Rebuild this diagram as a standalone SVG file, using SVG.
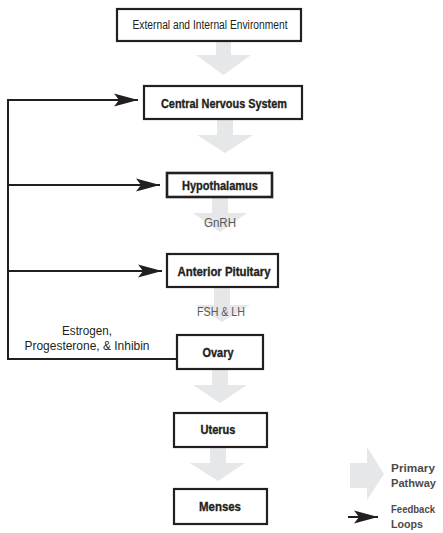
<svg xmlns="http://www.w3.org/2000/svg" width="443" height="533" viewBox="0 0 443 533">
<style>
.box{fill:#fff;stroke:#231f20;stroke-width:2.2}
.lbl{font-family:"Liberation Sans",Arial,sans-serif;font-weight:bold;font-size:13px;fill:#231f20;stroke:#231f20;stroke-width:0.35;text-anchor:middle}
.reg{font-family:"Liberation Sans",Arial,sans-serif;font-size:12px;fill:#231f20;text-anchor:middle}
.hor{font-family:"Liberation Sans",Arial,sans-serif;font-size:12px;fill:#58595b;text-anchor:middle}
.flow{fill:#e6e7e8}
.fb{fill:none;stroke:#231f20;stroke-width:2}
.leg{font-family:"Liberation Sans",Arial,sans-serif;font-size:11px;font-weight:bold;fill:#4d4a4a}
</style>
<defs>
<marker id="ah" markerUnits="userSpaceOnUse" markerWidth="26" markerHeight="16" refX="24" refY="8" orient="auto">
<path d="M0,1.5 L24,8 L0,14.5 L5,8 z" fill="#231f20"/>
</marker>
</defs>
<g id="connectors">
<polygon class="flow" points="216,42 231,42 231,55 251,55 223.5,75 196,55 216,55"/>
<polygon class="flow" points="217,120 233,120 233,135 253,135 225,153 197,135 217,135"/>
<polygon class="flow" points="212,198 228,198 228,213 247,213 220,232 193,213 212,213"/>
<polygon class="flow" points="214,288 230,288 230,305 250,305 222,322 195,305 214,305"/>
<polygon class="flow" points="212,370 228,370 228,385 247,385 220,403 193,385 212,385"/>
<polygon class="flow" points="210,447 226,447 226,463 245,463 218,481 190,463 210,463"/>
<text class="hor" x="220" y="227" textLength="32" lengthAdjust="spacingAndGlyphs">GnRH</text>
<text class="hor" x="221" y="316" textLength="48" lengthAdjust="spacingAndGlyphs">FSH &amp; LH</text>
<path class="fb" d="M177,359 H8 V100 H138" marker-end="url(#ah)"/>
<path class="fb" d="M8,185 H160" marker-end="url(#ah)"/>
<path class="fb" d="M8,271 H162" marker-end="url(#ah)"/>
<text class="reg" x="87" y="335" textLength="50" lengthAdjust="spacingAndGlyphs">Estrogen,</text>
<text class="reg" x="87" y="350" textLength="125" lengthAdjust="spacingAndGlyphs">Progesterone, &amp; Inhibin</text>
</g>
<g id="node-env">
<rect class="box" x="117" y="9" width="184" height="32"/>
<text class="reg" x="210" y="29" textLength="155" lengthAdjust="spacingAndGlyphs">External and Internal Environment</text>
</g>
<g id="node-cns">
<rect class="box" x="144" y="86" width="158" height="33"/>
<text class="lbl" x="224" y="108" textLength="126" lengthAdjust="spacingAndGlyphs">Central Nervous System</text>
</g>
<g id="node-hyp">
<rect class="box" x="167" y="173" width="105" height="24" style="stroke-width:2.6"/>
<text class="lbl" x="220" y="190" textLength="76" lengthAdjust="spacingAndGlyphs">Hypothalamus</text>
</g>
<g id="node-ap">
<rect class="box" x="167" y="254" width="111" height="33"/>
<text class="lbl" x="224" y="276" textLength="93" lengthAdjust="spacingAndGlyphs">Anterior Pituitary</text>
</g>
<g id="node-ovary">
<rect class="box" x="177" y="335" width="86" height="34"/>
<text class="lbl" x="218" y="357" textLength="31" lengthAdjust="spacingAndGlyphs">Ovary</text>
</g>
<g id="node-uterus">
<rect class="box" x="174" y="413" width="93" height="34"/>
<text class="lbl" x="218" y="434" textLength="35" lengthAdjust="spacingAndGlyphs">Uterus</text>
</g>
<g id="node-menses">
<rect class="box" x="174" y="489" width="93" height="35"/>
<text class="lbl" x="220" y="511" textLength="42" lengthAdjust="spacingAndGlyphs">Menses</text>
</g>
<g id="legend">
<polygon class="flow" points="350,463 367,463 367,447 384,474 367,500 367,488 350,488"/>
<text class="leg" x="391" y="472" textLength="44" lengthAdjust="spacingAndGlyphs">Primary</text>
<text class="leg" x="391" y="487" textLength="45" lengthAdjust="spacingAndGlyphs">Pathway</text>
<path d="M348,517 H378" stroke="#231f20" stroke-width="2" marker-end="url(#ah)" fill="none"/>
<text class="leg" x="391" y="513" textLength="44" lengthAdjust="spacingAndGlyphs">Feedback</text>
<text class="leg" x="391" y="528" textLength="32" lengthAdjust="spacingAndGlyphs">Loops</text>
</g>
</svg>
